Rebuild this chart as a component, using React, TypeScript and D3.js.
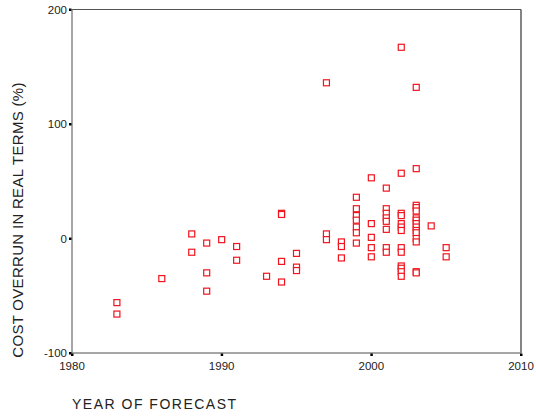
import React from "react";
import * as d3 from "d3";

// year of forecast, cost overrun (%)
const years = [
  1983, 1983, 1986, 1988, 1988, 1989, 1989, 1989, 1990, 1991, 1991, 1993,
  1994, 1994, 1994, 1994, 1995, 1995, 1995,
  1997, 1997, 1997,
  1998, 1998, 1998,
  1999, 1999, 1999, 1999, 1999, 1999, 1999,
  2000, 2000, 2000, 2000, 2000,
  2001, 2001, 2001, 2001, 2001, 2001, 2001, 2001,
  2002, 2002, 2002, 2002, 2002, 2002, 2002, 2002, 2002, 2002, 2002, 2002, 2002,
  2003, 2003, 2003, 2003, 2003, 2003, 2003, 2003, 2003, 2003, 2003, 2003, 2003, 2003, 2003,
  2004, 2005, 2005,
];
const overruns = [
  -56, -66, -35, 4, -12, -4, -30, -46, -1, -7, -19, -33,
  22, 21, -20, -38, -13, -25, -28,
  136, 4, -1,
  -3, -7, -17,
  36, 26, 20, 16, 10, 5, -4,
  53, 13, 1, -8, -16,
  44, 26, 22, 18, 15, 8, -8, -12,
  167, 57, 22, 20, 13, 10, 7, -8, -12, -24, -26, -29, -33,
  132, 61, 29, 27, 24, 18, 16, 13, 10, 7, 5, 0, -3, -29, -30,
  11, -8, -16,
];
const xTicks = [1980, 1990, 2000, 2010];
const yTicks = [-100, 0, 100, 200];

const W = 536;
const H = 416;

export default function App() {
  const left = 72, right = 521, top = 9.5, bottom = 353;
  const x = d3.scaleLinear().domain([1980, 2010]).range([left, right]);
  const y = d3.scaleLinear().domain([-100, 200]).range([bottom, top]);
  const pts = years.map((yr, i) => ({ yr, v: overruns[i] }));
  const sq = 6;

  return (
    <svg width={W} height={H} style={{ position: "absolute", left: 0, top: 0, background: "#fff" }}
      fontFamily="Arial, Liberation Sans, sans-serif">
      {/* frame */}
      <line x1={left} x2={right} y1={top} y2={top} stroke="#555" strokeWidth={1.2} />
      <line x1={right} x2={right} y1={top} y2={bottom} stroke="#333" strokeWidth={1.2} />
      <line x1={left} x2={left} y1={top} y2={bottom} stroke="#888" strokeWidth={1.5} />
      <line x1={left} x2={right} y1={bottom} y2={bottom} stroke="#888" strokeWidth={1.5} />

      {yTicks.map(t => (
        <g key={t} transform={`translate(${left},${y(t)})`}>
          <rect x={-3} y={-1} width={2.5} height={2.5} fill="#000" />
          <text x={-5} y={4} textAnchor="end" fontSize={11.5} fill="#222">{t}</text>
        </g>
      ))}
      {xTicks.map(t => (
        <g key={t} transform={`translate(${x(t)},${bottom})`}>
          <rect x={-1} y={0.5} width={2.5} height={2.5} fill="#000" />
          <text y={17} textAnchor="middle" fontSize={11.5} fill="#222">{t}</text>
        </g>
      ))}

      {pts.map((d, i) => (
        <rect key={i} x={x(d.yr) - sq / 2} y={y(d.v) - sq / 2} width={sq} height={sq}
          fill="#fff" stroke="#f0141e" strokeWidth={1.2} />
      ))}

      <text x={72} y={409} fontSize={14} fill="#222" letterSpacing={1.5}>YEAR OF FORECAST</text>
      <text transform={`translate(23,${220}) rotate(-90)`} textAnchor="middle" fontSize={15} fill="#222"
        letterSpacing={0.3}>
        COST OVERRUN IN REAL TERMS (%)
      </text>
    </svg>
  );
}
